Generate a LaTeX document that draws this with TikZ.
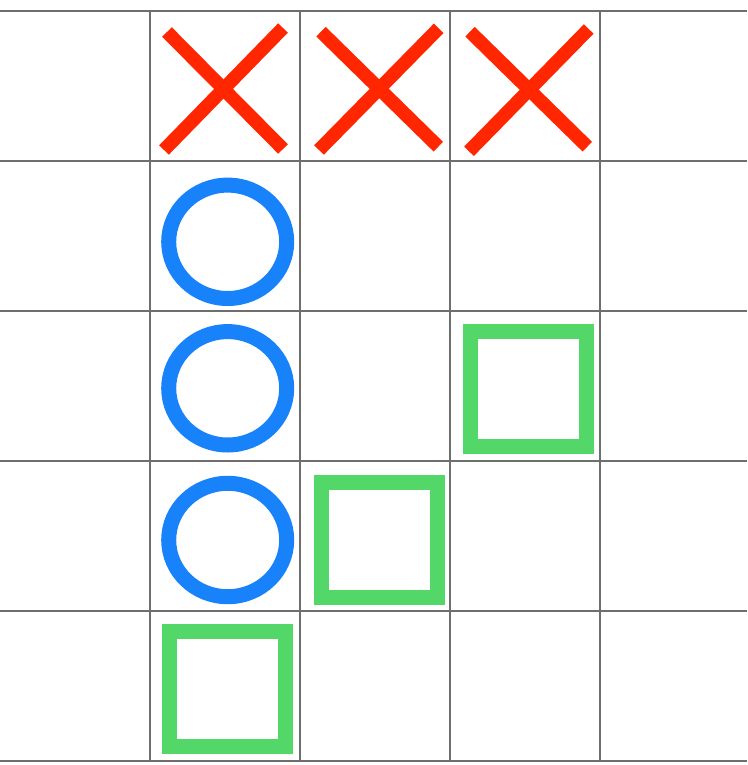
\documentclass[tikz,border=0pt]{standalone}
\definecolor{gridgray}{HTML}{6E6E6E}
\definecolor{xred}{HTML}{FF2600}
\definecolor{oblue}{HTML}{1782FA}
\definecolor{sqgreen}{HTML}{53D769}
\tikzset{
  gridline/.style={draw=gridgray, line width=1.5pt},
  xmark/.style={draw=xred, line width=13.5pt, line cap=butt},
  omark/.style={draw=oblue, line width=15pt},
  sqmark/.style={draw=sqgreen, line width=15pt, line join=miter}
}
\begin{document}
\begin{tikzpicture}[x=1pt,y=-1pt]
\useasboundingbox (0,0) rectangle (747,765);
\fill[white] (0,0) rectangle (747,765);
% grid
\foreach \yy in {10.8,160.8,310.8,460.8,610.8,760.8}
  \draw[gridline] (0,\yy) -- (747,\yy);
\foreach \xx in {149.8,299.8,449.8,599.8}
  \draw[gridline] (\xx,10.8) -- (\xx,760.8);
% crosses
\draw[xmark] (167,32) -- (283,149);
\draw[xmark] (164,150) -- (283,28);
\draw[xmark] (321,31.7) -- (438.3,146.7);
\draw[xmark] (319,150) -- (438.7,28.3);
\draw[xmark] (470,31.7) -- (587.3,146.7);
\draw[xmark] (469,151.3) -- (588.7,29);
% circles
\draw[omark] (227.7,241.8) ellipse [x radius=59, y radius=56.7];
\draw[omark] (227.7,388.3) ellipse [x radius=59, y radius=56.7];
\draw[omark] (227.7,540) ellipse [x radius=59, y radius=56.7];
% squares
\draw[sqmark] (169.5,631.5) rectangle (285.5,746.5);
\draw[sqmark] (470.5,331.5) rectangle (586.5,446.5);
\draw[sqmark] (321.5,482.5) rectangle (437.5,597.5);
\end{tikzpicture}
\end{document}
